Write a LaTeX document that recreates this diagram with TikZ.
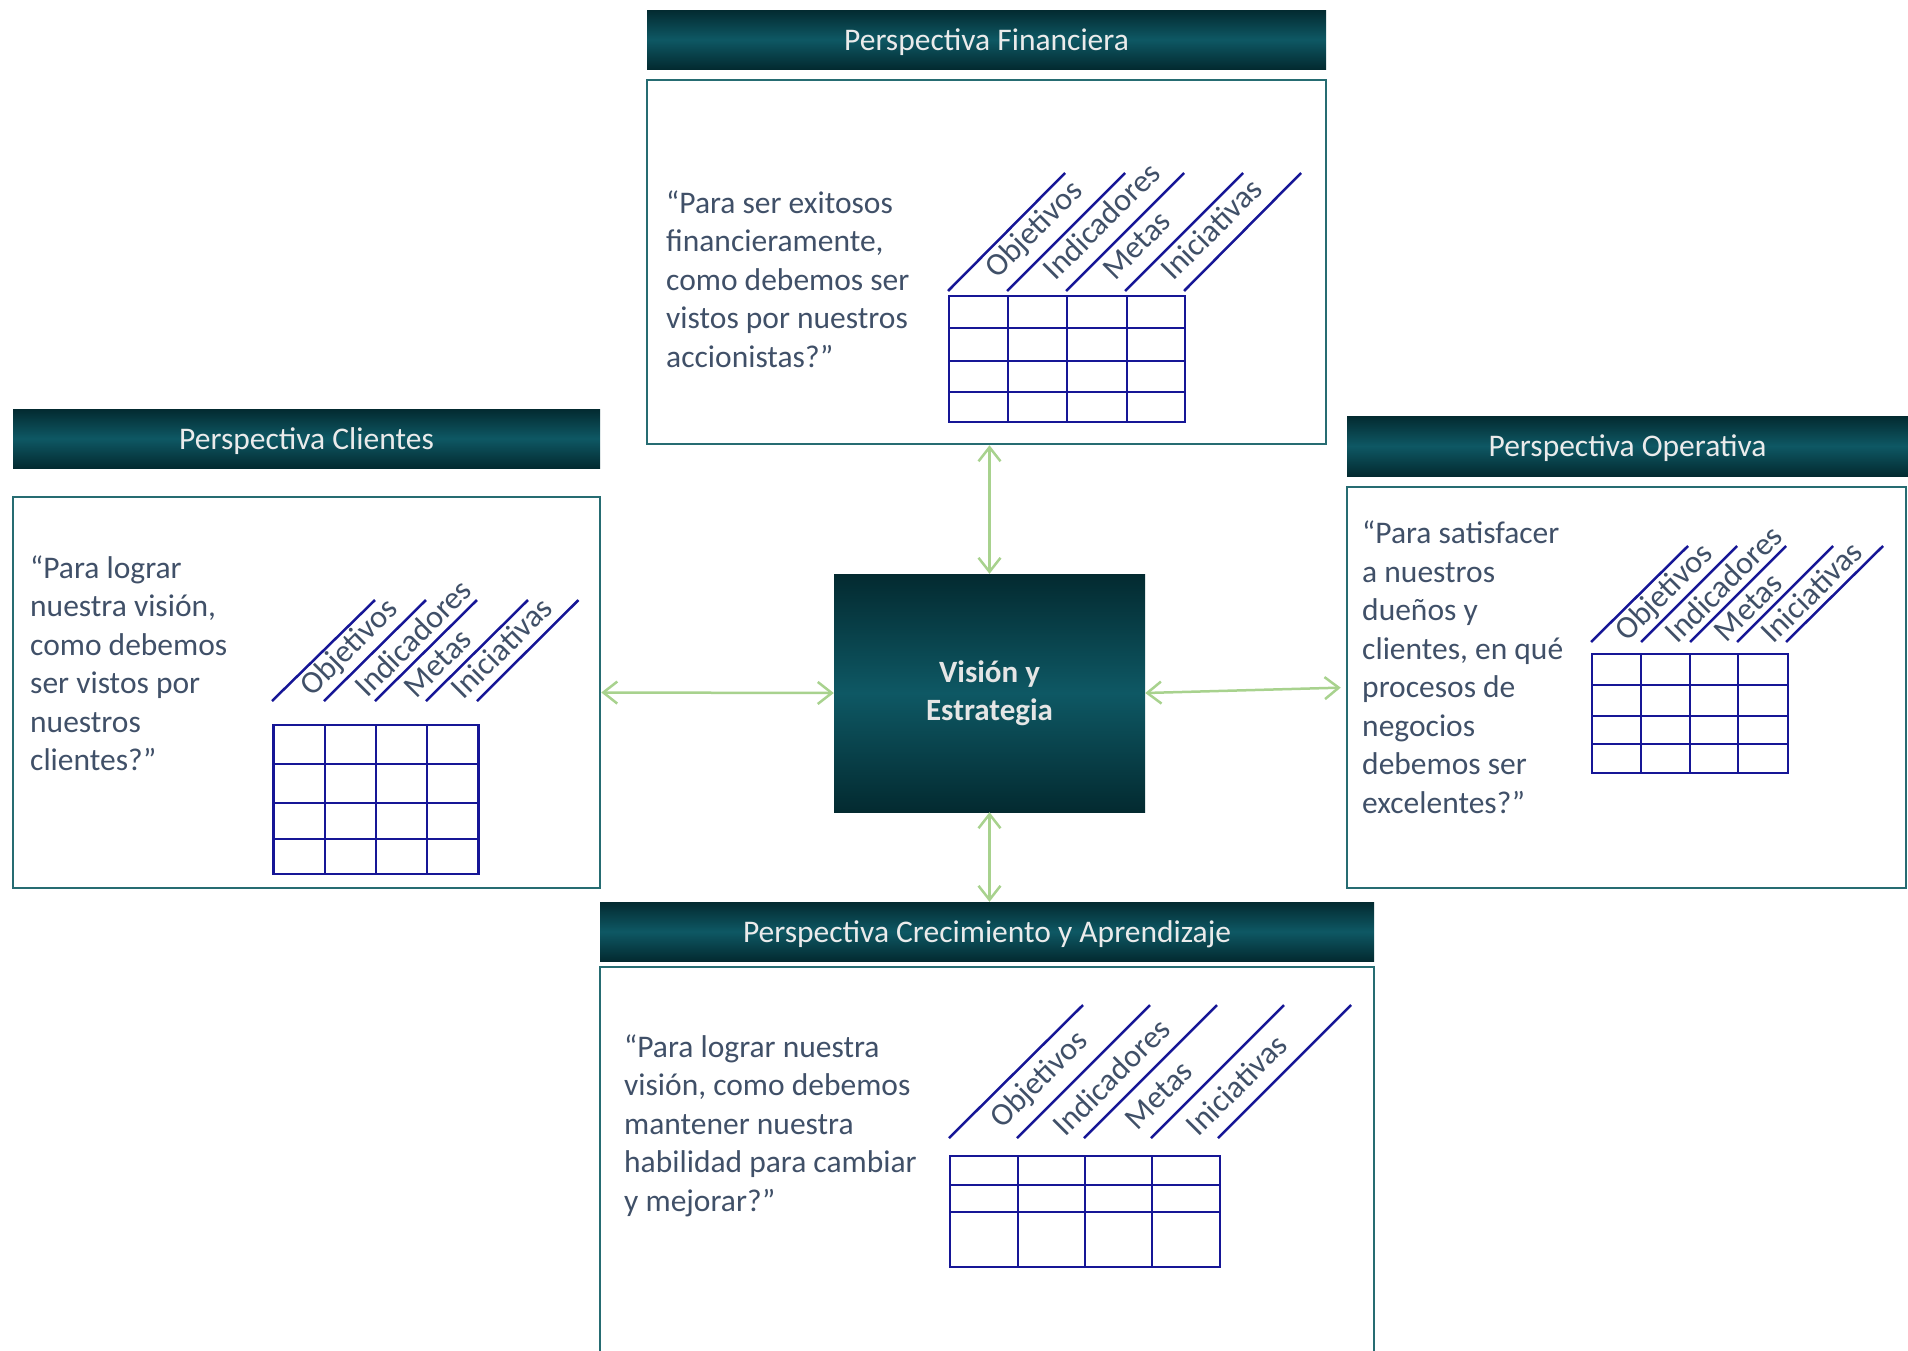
\documentclass[tikz,border=0pt]{standalone}
\usepackage{fontspec}
\setmainfont{Carlito}
\usepackage{tikz}
\usetikzlibrary{arrows.meta,calc}
\definecolor{tealdark}{RGB}{3,42,48}
\definecolor{tealmid}{RGB}{14,88,100}
\definecolor{bordeteal}{RGB}{38,108,114}
\definecolor{pizarra}{RGB}{64,80,104}
\definecolor{azultabla}{RGB}{22,22,150}
\definecolor{verdeflecha}{RGB}{168,210,142}
\tikzstyle{titulo} = [rectangle, inner sep=0pt, text depth=0pt, top color=tealdark, bottom color=tealdark, middle color=tealmid, text=white!92!black, font=\fontsize{31.5}{38}\selectfont]
\tikzstyle{caja} = [rectangle, inner sep=0pt, draw=bordeteal, line width=2.5pt]
\tikzstyle{pregunta} = [inner sep=0pt, anchor=west, align=left, text=pizarra, font=\fontsize{31.5}{38.5}\selectfont]
\tikzstyle{columna} = [inner sep=0pt, anchor=west, rotate=45, text=pizarra, font=\fontsize{32}{32}\selectfont]
\tikzstyle{tabla} = [azultabla, line width=2.5pt]
\tikzstyle{arrow} = [verdeflecha, line width=2.5pt, <->, >={Straight Barb[length=14pt,width=22pt]}]

\begin{document}
\begin{tikzpicture}[x=1pt, y=-1pt]
\useasboundingbox (0,0) rectangle (1908,1350);

% centro
\node[rectangle, inner sep=0pt, minimum width=311pt, minimum height=238pt, top color=tealdark, bottom color=tealdark, middle color=tealmid, text=white!90!black, align=center, font=\fontsize{31}{38}\selectfont\bfseries] (vision) at (989.5,693) {Visión y\\Estrategia};

% perspectiva financiera
\node[titulo, minimum width=679pt, minimum height=59pt] (finhead) at (986.5,39.5) {Perspectiva Financiera};
\node[caja, minimum width=679pt, minimum height=364pt] (finbox) at (986.5,262) {};
\node[pregunta] (fintext) at (666,279) {“Para ser exitosos\\financieramente,\\como debemos ser\\vistos por nuestros\\accionistas?”};
\draw[tabla] (949,296) rectangle (1185,422);
\draw[tabla] (1008,296) -- (1008,422) (1067,296) -- (1067,422) (1127,296) -- (1127,422);
\draw[tabla] (949,328) -- (1185,328) (949,361) -- (1185,361) (949,392) -- (1185,392);
\draw[tabla] (948,291) -- (1065,173) (1007,291) -- (1125,173) (1066,291) -- (1184,173) (1125,291) -- (1243,173) (1184,291) -- (1301,173);
\node[columna] (finobj) at (991,274) {Objetivos};
\node[columna] (finind) at (1048,274) {Indicadores};
\node[columna] (finmet) at (1108,274) {Metas};
\node[columna] (finini) at (1166,274) {Iniciativas};

% perspectiva clientes
\node[titulo, minimum width=587pt, minimum height=59pt] (clihead) at (306.5,438.5) {Perspectiva Clientes};
\node[caja, minimum width=587pt, minimum height=391pt] (clibox) at (306.5,692.5) {};
\node[pregunta] (clitext) at (30,663) {“Para lograr\\nuestra visión,\\como debemos\\ser vistos por\\nuestros\\clientes?”};
\draw[tabla] (273.5,725) rectangle (478.5,874);
\draw[tabla] (325,725) -- (325,874) (376,725) -- (376,874) (427,725) -- (427,874);
\draw[tabla] (273.5,764) -- (478.5,764) (273.5,803) -- (478.5,803) (273.5,839) -- (478.5,839);
\draw[tabla] (272,701) -- (375,600) (324,701) -- (426,600) (375,701) -- (477,600) (426,701) -- (528,600) (477,701) -- (578.5,600);
\node[columna] (cliobj) at (306,692) {Objetivos};
\node[columna] (cliind) at (359.5,691) {Indicadores};
\node[columna] (climet) at (409,692) {Metas};
\node[columna] (cliini) at (456,693) {Iniciativas};

% perspectiva operativa
\node[titulo, minimum width=561pt, minimum height=60pt] (opehead) at (1627.5,446) {Perspectiva Operativa};
\node[caja, minimum width=559pt, minimum height=401pt] (opebox) at (1626.5,687.5) {};
\node[pregunta] (opetext) at (1362,667) {“Para satisfacer\\a nuestros\\dueños y\\clientes, en qué\\procesos de\\negocios\\debemos ser\\excelentes?”};
\draw[tabla] (1592,654) rectangle (1788,773);
\draw[tabla] (1641,654) -- (1641,773) (1690,654) -- (1690,773) (1738,654) -- (1738,773);
\draw[tabla] (1592,685) -- (1788,685) (1592,716) -- (1788,716) (1592,744) -- (1788,744);
\draw[tabla] (1591,642) -- (1688,546) (1641,642) -- (1737,546) (1690,642) -- (1786,546) (1737,642) -- (1833,546) (1786,642) -- (1883,546);
\node[columna] (opeobj) at (1621,637) {Objetivos};
\node[columna] (opeind) at (1670,637) {Indicadores};
\node[columna] (opemet) at (1719.5,636) {Metas};
\node[columna] (opeini) at (1766,637) {Iniciativas};

% perspectiva crecimiento y aprendizaje
\node[titulo, minimum width=774pt, minimum height=59pt] (crehead) at (987,931.5) {Perspectiva Crecimiento y Aprendizaje};
\node[caja, minimum width=774pt, minimum height=403pt] (crebox) at (987,1168.5) {};
\node[pregunta] (cretext) at (624,1125.5) {“Para lograr nuestra\\visión, como debemos\\mantener nuestra\\habilidad para cambiar\\y mejorar?”};
\draw[tabla] (950,1156) rectangle (1220,1267);
\draw[tabla] (1018,1156) -- (1018,1267) (1085,1156) -- (1085,1267) (1152,1156) -- (1152,1267);
\draw[tabla] (950,1185) -- (1220,1185) (950,1212) -- (1220,1212);
\draw[tabla] (949,1138) -- (1083,1005) (1017,1138) -- (1150,1005) (1084,1138) -- (1217,1005) (1151,1138) -- (1284,1005) (1218,1138) -- (1351,1005);
\node[columna] (creobj) at (996,1124) {Objetivos};
\node[columna] (creind) at (1058,1130) {Indicadores};
\node[columna] (cremet) at (1130,1124) {Metas};
\node[columna] (creini) at (1191,1130) {Iniciativas};

% flechas
\draw[arrow] (vision.north |- finbox.south) -- (vision.north);
\draw[arrow] (clibox.east) -- (vision.west);
\draw[arrow, shorten >=5pt] (vision.east) -- (opebox.west);
\draw[arrow] (vision.south) -- (vision.south |- crehead.north);
\end{tikzpicture}
\end{document}
